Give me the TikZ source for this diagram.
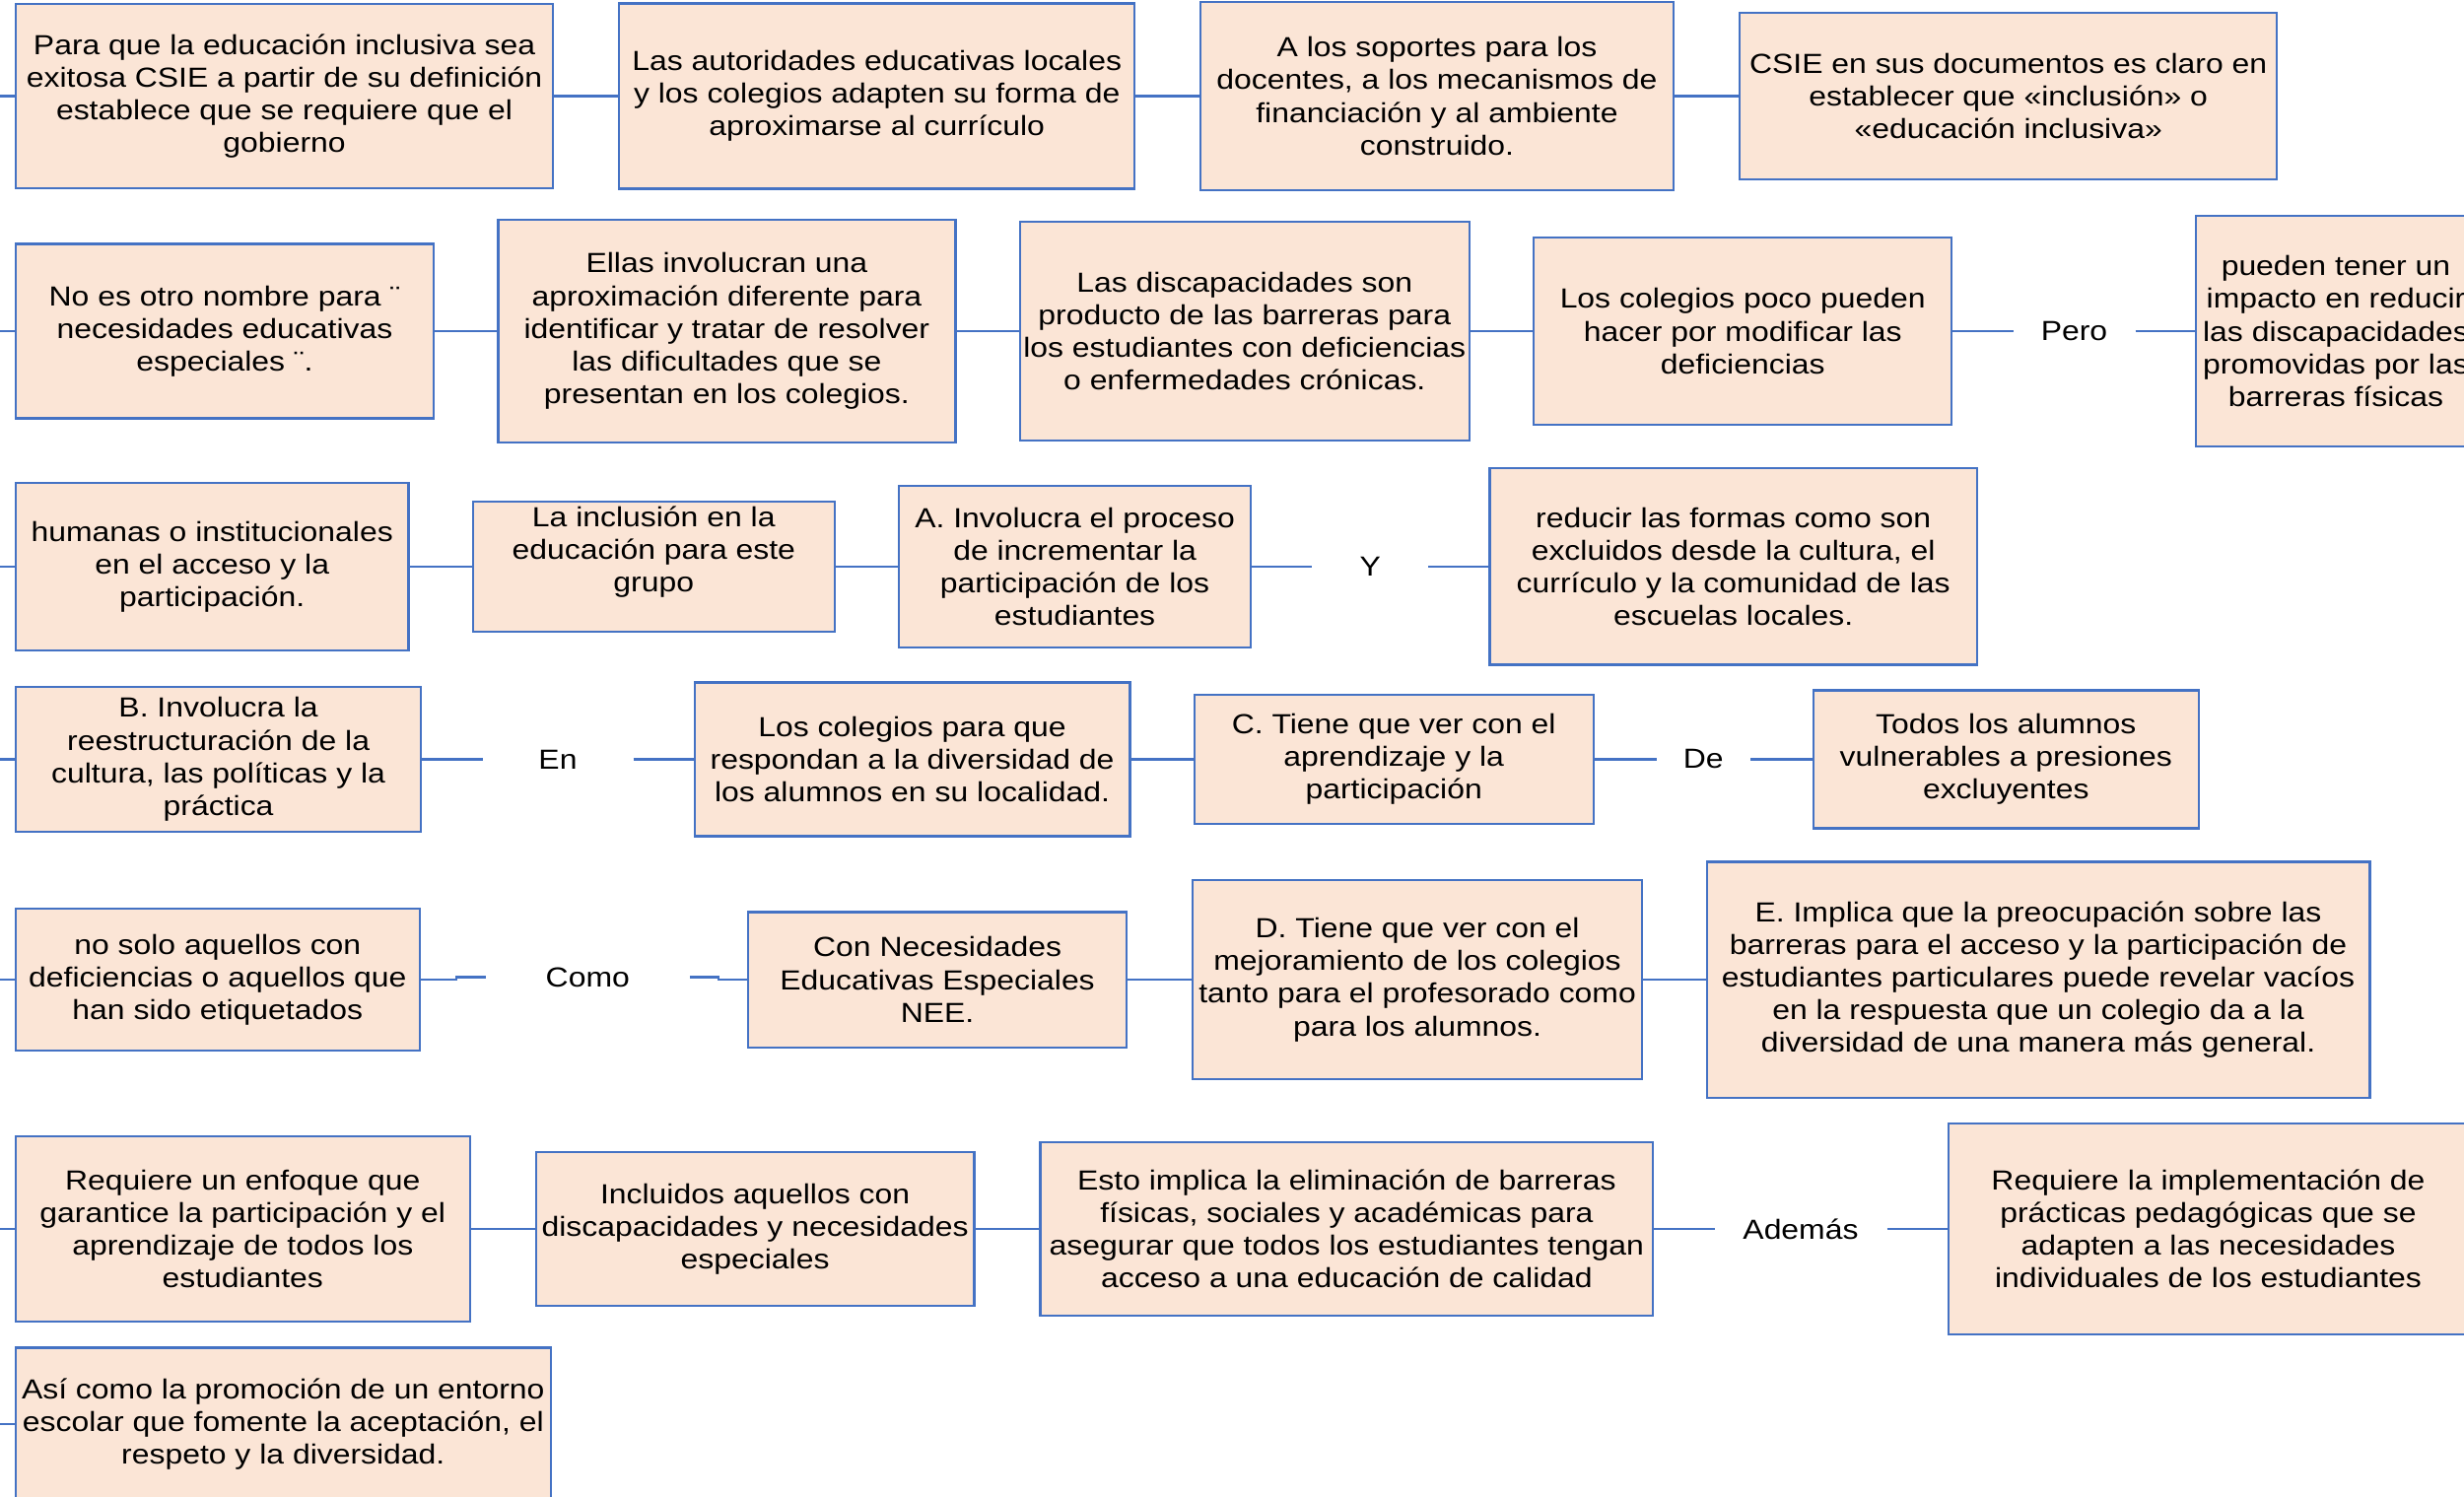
\documentclass[tikz,border=0pt]{standalone}
\usepackage{fontspec}
\setmainfont{Liberation Sans}[FakeStretch=1.14]
\definecolor{bordeazul}{RGB}{68,114,196}
\definecolor{rellenodurazno}{RGB}{251,229,214}
\tikzset{
	caja/.style={draw=bordeazul, fill=rellenodurazno, line width=0.55pt, inner sep=0pt, align=center, font=\fontsize{7}{8.3}\selectfont},
	enlace/.style={inner sep=0pt, align=center, font=\fontsize{7}{8.3}\selectfont},
	linea/.style={draw=bordeazul, line width=0.55pt}}
\tikzset{every picture/.style={line width=0.75pt}}

\begin{document}
\begin{tikzpicture}[x=0.25pt,y=0.25pt,yscale=-1,xscale=1]
	%set diagram: 2500 wide, 1519 high
	\useasboundingbox (0,0) rectangle (2500,1519);
	\fill[white] (0,0) rectangle (2500,1519);
	\clip (0,0) rectangle (2500,1519);

	%Shape: Rectangle (fila 1)
	\node[caja, minimum width=136.3pt, minimum height=46.6pt] (b1) at (288.6,97.5) {Para que la educación inclusiva sea\\exitosa CSIE a partir de su definición\\establece que se requiere que el\\gobierno};
	\node[caja, minimum width=130.75pt, minimum height=47pt] (b2) at (889.7,97.5) {Las autoridades educativas locales\\y los colegios adapten su forma de\\aproximarse al currículo};
	\node[caja, minimum width=120pt, minimum height=47.8pt] (b3) at (1458,97.5) {A los soportes para los\\docentes, a los mecanismos de\\financiación y al ambiente\\construido.};
	\node[caja, minimum width=136.3pt, minimum height=42.25pt] (b4) at (2037.7,97.5) {CSIE en sus documentos es claro en\\establecer que «inclusión» o\\«educación inclusiva»};

	%Shape: Rectangle (fila 2)
	\node[caja, minimum width=106pt, minimum height=44.25pt] (c1) at (228,336) {No es otro nombre para ¨\\necesidades educativas\\especiales ¨.};
	\node[caja, minimum width=116pt, minimum height=56.6pt] (c2) at (737.4,336) {Ellas involucran una\\aproximación diferente para\\identificar y tratar de resolver\\las dificultades que se\\presentan en los colegios.};
	\node[caja, minimum width=114pt, minimum height=55.4pt] (c3) at (1262.8,336) {Las discapacidades son\\producto de las barreras para\\los estudiantes con deficiencias\\o enfermedades crónicas.};
	\node[caja, minimum width=106pt, minimum height=47.4pt] (c4) at (1768.2,336) {Los colegios poco pueden\\hacer por modificar las\\deficiencias};
	\node[caja, minimum width=71.2pt, minimum height=58.6pt] (c5) at (2370,336) {pueden tener un\\impacto en reducir\\las discapacidades\\promovidas por las\\barreras físicas};

	%Shape: Rectangle (fila 3)
	\node[caja, minimum width=99.65pt, minimum height=42.65pt] (d1) at (215.2,575) {humanas o institucionales\\en el acceso y la\\participación.};
	\node[caja, minimum width=91.7pt, minimum height=33.1pt,
		label={[enlace, yshift=3.7pt]center:{La inclusión en la\\educación para este\\grupo}}] (d2) at (663.3,575) {};
	\node[caja, minimum width=89.3pt, minimum height=41pt] (d3) at (1090.6,575) {A. Involucra el proceso\\de incrementar la\\participación de los\\estudiantes};
	\node[caja, minimum width=123.6pt, minimum height=49.8pt] (d4) at (1758.7,575) {reducir las formas como son\\excluidos desde la cultura, el\\currículo y la comunidad de las\\escuelas locales.};

	%Shape: Rectangle (fila 4)
	\node[caja, minimum width=102.85pt, minimum height=36.65pt] (e1) at (221.6,770.5) {B. Involucra la\\reestructuración de la\\cultura, las políticas y la\\práctica};
	\node[caja, minimum width=110.4pt, minimum height=39pt] (e2) at (925.6,770.5) {Los colegios para que\\respondan a la diversidad de\\los alumnos en su localidad.};
	\node[caja, minimum width=101.25pt, minimum height=32.7pt] (e3) at (1414.2,770.5) {C. Tiene que ver con el\\aprendizaje y la\\participación};
	\node[caja, minimum width=97.7pt, minimum height=35pt] (e4) at (2035.3,770.5) {Todos los alumnos\\vulnerables a presiones\\excluyentes};

	%Shape: Rectangle (fila 5)
	\node[caja, minimum width=102.45pt, minimum height=35.9pt] (f1) at (220.8,994) {no solo aquellos con\\deficiencias o aquellos que\\han sido etiquetados};
	\node[caja, minimum width=96pt, minimum height=34.3pt] (f2) at (951.1,994) {Con Necesidades\\Educativas Especiales\\NEE.};
	\node[caja, minimum width=114pt, minimum height=50.6pt] (f3) at (1438.1,994) {D. Tiene que ver con el\\mejoramiento de los colegios\\tanto para el profesorado como\\para los alumnos.};
	\node[caja, minimum width=168.2pt, minimum height=59.8pt] (f4) at (2068,994) {E. Implica que la preocupación sobre las\\barreras para el acceso y la participación de\\estudiantes particulares puede revelar vacíos\\en la respuesta que un colegio da a la\\diversidad de una manera más general.};

	%Shape: Rectangle (fila 6)
	\node[caja, minimum width=115.2pt, minimum height=47pt] (g1) at (246.3,1247) {Requiere un enfoque que\\garantice la participación y el\\aprendizaje de todos los\\estudiantes};
	\node[caja, minimum width=111.2pt, minimum height=39pt] (g2) at (766.1,1247) {Incluidos aquellos con\\discapacidades y necesidades\\especiales};
	\node[caja, minimum width=155.45pt, minimum height=43.85pt] (g3) at (1366.4,1247) {Esto implica la eliminación de barreras\\físicas, sociales y académicas para\\asegurar que todos los estudiantes tengan\\acceso a una educación de calidad};
	\node[caja, minimum width=131.75pt, minimum height=53.4pt] (g4) at (2240.5,1247) {Requiere la implementación de\\prácticas pedagógicas que se\\adapten a las necesidades\\individuales de los estudiantes};

	%Shape: Rectangle (fila 7)
	\node[caja, minimum width=135.65pt, minimum height=38.75pt] (h1) at (287.3,1445) {Así como la promoción de un entorno\\escolar que fomente la aceptación, el\\respeto y la diversidad.};

	% Text Node
	\node[enlace, minimum width=30.25pt] (pero) at (2104.5,336) {Pero};
	% Text Node
	\node[enlace, minimum width=28.7pt] (y) at (1390.3,575) {Y};
	% Text Node
	\node[enlace, minimum width=37.5pt] (en) at (566,770.5) {En};
	% Text Node
	\node[enlace, minimum width=23.1pt] (de) at (1728.3,770.5) {De};
	% Text Node
	\node[enlace, minimum width=51pt] (como) at (596.3,991.5) {Como};
	% Text Node
	\node[enlace, minimum width=43pt] (ademas) at (1827,1247) {Además};

	%Straight Lines: entradas desde el borde izquierdo
	\foreach \fila/\primera/\alto in {1/b1/97.5, 2/c1/336, 3/d1/575, 4/e1/770.5, 5/f1/994, 6/g1/1247, 7/h1/1445}{
		\coordinate (entrada\fila) at (0,\alto);
		\draw[linea] (entrada\fila) -- (\primera);
	}

	%Straight Lines
	\draw[linea] (b1) -- (b2);
	\draw[linea] (b2) -- (b3);
	\draw[linea] (b3) -- (b4);
	\draw[linea] (c1) -- (c2);
	\draw[linea] (c2) -- (c3);
	\draw[linea] (c3) -- (c4);
	\draw[linea] (c4) -- (pero);
	\draw[linea] (pero) -- (c5);
	\draw[linea] (d1) -- (d2);
	\draw[linea] (d2) -- (d3);
	\draw[linea] (d3) -- (y);
	\draw[linea] (y) -- (d4);
	\draw[linea] (e1) -- (en);
	\draw[linea] (en) -- (e2);
	\draw[linea] (e2) -- (e3);
	\draw[linea] (e3) -- (de);
	\draw[linea] (de) -- (e4);
	\draw[linea] (f1.east) -- ++(36,0) |- (como.west);
	\draw[linea] (como.east) -- ++(29,0) |- (f2.west);
	\draw[linea] (f2) -- (f3);
	\draw[linea] (f3) -- (f4);
	\draw[linea] (g1) -- (g2);
	\draw[linea] (g2) -- (g3);
	\draw[linea] (g3) -- (ademas);
	\draw[linea] (ademas) -- (g4);

\end{tikzpicture}
\end{document}
